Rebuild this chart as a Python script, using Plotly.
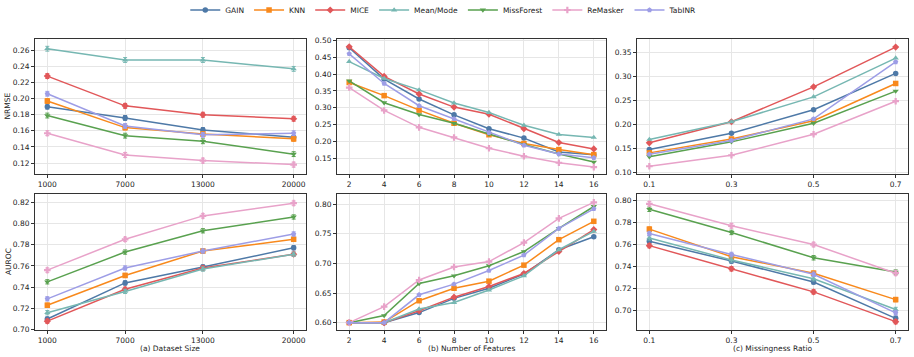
import plotly.graph_objects as go

METHODS = ["GAIN", "KNN", "MICE", "Mean/Mode", "MissForest", "ReMasker", "TabINR"]
COLORS = {"GAIN": "#4e79a7", "KNN": "#f8891c", "MICE": "#e15759", "Mean/Mode": "#76b7b2",
          "MissForest": "#59a14f", "ReMasker": "#e8a2c9", "TabINR": "#9d9de6"}
SYMBOLS = {"GAIN": "circle", "KNN": "square", "MICE": "diamond", "Mean/Mode": "triangle-up",
           "MissForest": "triangle-down", "ReMasker": "cross", "TabINR": "pentagon"}

SIZES = [1000, 7000, 13000, 20000]
FEATURES = [2, 4, 6, 8, 10, 12, 14, 16]
RATIOS = [0.1, 0.3, 0.5, 0.7]

NRMSE_SIZE = {
    "GAIN": [0.190, 0.176, 0.161, 0.152],
    "KNN": [0.197, 0.164, 0.156, 0.150],
    "MICE": [0.228, 0.191, 0.180, 0.175],
    "Mean/Mode": [0.262, 0.248, 0.248, 0.237],
    "MissForest": [0.179, 0.154, 0.147, 0.131],
    "ReMasker": [0.157, 0.130, 0.123, 0.118],
    "TabINR": [0.206, 0.166, 0.155, 0.157],
}
NRMSE_SIZE_ERR = {
    "GAIN": [0.003, 0.003, 0.003, 0.002],
    "KNN": [0.003, 0.003, 0.003, 0.003],
    "MICE": [0.003, 0.003, 0.003, 0.003],
    "Mean/Mode": [0.003, 0.003, 0.003, 0.003],
    "MissForest": [0.003, 0.003, 0.003, 0.003],
    "ReMasker": [0.003, 0.003, 0.003, 0.003],
    "TabINR": [0.003, 0.003, 0.003, 0.003],
}
NRMSE_FEAT = {
    "GAIN": [0.478, 0.385, 0.326, 0.279, 0.238, 0.210, 0.169, 0.161],
    "KNN": [0.375, 0.336, 0.293, 0.254, 0.220, 0.194, 0.176, 0.161],
    "MICE": [0.481, 0.393, 0.341, 0.302, 0.281, 0.238, 0.197, 0.178],
    "Mean/Mode": [0.437, 0.387, 0.353, 0.314, 0.286, 0.248, 0.221, 0.212],
    "MissForest": [0.380, 0.315, 0.280, 0.254, 0.222, 0.191, 0.163, 0.139],
    "ReMasker": [0.360, 0.292, 0.242, 0.212, 0.180, 0.156, 0.137, 0.124],
    "TabINR": [0.460, 0.372, 0.306, 0.267, 0.226, 0.189, 0.163, 0.152],
}
NRMSE_RATIO = {
    "GAIN": [0.147, 0.181, 0.230, 0.306],
    "KNN": [0.140, 0.169, 0.207, 0.285],
    "MICE": [0.161, 0.205, 0.278, 0.361],
    "Mean/Mode": [0.168, 0.205, 0.257, 0.338],
    "MissForest": [0.132, 0.163, 0.202, 0.269],
    "ReMasker": [0.112, 0.135, 0.179, 0.248],
    "TabINR": [0.137, 0.166, 0.211, 0.330],
}
AUROC_SIZE = {
    "GAIN": [0.710, 0.744, 0.759, 0.777],
    "KNN": [0.723, 0.751, 0.774, 0.785],
    "MICE": [0.708, 0.738, 0.758, 0.771],
    "Mean/Mode": [0.716, 0.736, 0.757, 0.771],
    "MissForest": [0.745, 0.773, 0.793, 0.806],
    "ReMasker": [0.756, 0.785, 0.807, 0.819],
    "TabINR": [0.729, 0.758, 0.774, 0.790],
}
AUROC_SIZE_ERR = {
    "GAIN": [0.002, 0.002, 0.002, 0.002],
    "KNN": [0.002, 0.002, 0.002, 0.002],
    "MICE": [0.002, 0.002, 0.002, 0.002],
    "Mean/Mode": [0.002, 0.002, 0.002, 0.002],
    "MissForest": [0.002, 0.002, 0.002, 0.002],
    "ReMasker": [0.002, 0.002, 0.002, 0.002],
    "TabINR": [0.002, 0.002, 0.002, 0.002],
}
AUROC_FEAT = {
    "GAIN": [0.600, 0.600, 0.617, 0.641, 0.658, 0.682, 0.723, 0.745],
    "KNN": [0.600, 0.601, 0.637, 0.658, 0.670, 0.697, 0.740, 0.771],
    "MICE": [0.600, 0.600, 0.620, 0.643, 0.661, 0.683, 0.720, 0.757],
    "Mean/Mode": [0.600, 0.600, 0.623, 0.634, 0.655, 0.679, 0.723, 0.754],
    "MissForest": [0.600, 0.612, 0.666, 0.679, 0.696, 0.720, 0.759, 0.796],
    "ReMasker": [0.600, 0.627, 0.672, 0.694, 0.703, 0.735, 0.776, 0.803],
    "TabINR": [0.600, 0.600, 0.647, 0.665, 0.688, 0.714, 0.759, 0.792],
}
AUROC_RATIO = {
    "GAIN": [0.763, 0.745, 0.726, 0.693],
    "KNN": [0.774, 0.749, 0.734, 0.710],
    "MICE": [0.759, 0.738, 0.717, 0.690],
    "Mean/Mode": [0.766, 0.746, 0.729, 0.701],
    "MissForest": [0.792, 0.771, 0.748, 0.735],
    "ReMasker": [0.797, 0.777, 0.760, 0.734],
    "TabINR": [0.770, 0.751, 0.733, 0.698],
}
AUROC_RATIO_ERR = {
    "GAIN": [0.002, 0.002, 0.002, 0.002],
    "KNN": [0.002, 0.002, 0.002, 0.002],
    "MICE": [0.002, 0.002, 0.002, 0.002],
    "Mean/Mode": [0.002, 0.002, 0.002, 0.002],
    "MissForest": [0.002, 0.002, 0.002, 0.002],
    "ReMasker": [0.002, 0.002, 0.002, 0.002],
    "TabINR": [0.002, 0.002, 0.002, 0.002],
}

X_TITLES = ["(a) Dataset Size", "(b) Number of Features", "(c) Missingness Ratio"]
Y_TITLES = ["NRMSE", "AUROC"]

FONT = "DejaVu Sans"
FS = 7.5
AXCOL = "#333333"
GRID = "#e6e6e6"

W, H = 914, 357
ML, MR, MT, MB = 35, 6, 39, 27
PW, PH = W - ML - MR, H - MT - MB

panels = [
    (1, 1, SIZES, NRMSE_SIZE, NRMSE_SIZE_ERR),
    (1, 2, FEATURES, NRMSE_FEAT, None),
    (1, 3, RATIOS, NRMSE_RATIO, None),
    (2, 1, SIZES, AUROC_SIZE, AUROC_SIZE_ERR),
    (2, 2, FEATURES, AUROC_FEAT, None),
    (2, 3, RATIOS, AUROC_RATIO, AUROC_RATIO_ERR),
]

xdomains = [[0.0, 0.3104], [0.3459, 0.6541], [0.6896, 1.0]]
ydomains = {1: [0.536, 1.0], 2: [0.0, 0.467]}

xranges = [[50, 20950], [1.3, 16.7], [0.07, 0.73]]
xticks = [SIZES, FEATURES, RATIOS]
xtext = [[str(v) for v in SIZES], [str(v) for v in FEATURES], [str(v) for v in RATIOS]]
yranges = {(1, 1): [0.1063, 0.2741], (1, 2): [0.1035, 0.504], (1, 3): [0.0958, 0.3779],
           (2, 1): [0.6997, 0.8275], (2, 2): [0.5876, 0.8169], (2, 3): [0.6824, 0.8058]}
ydtick = {(1, 1): 0.02, (1, 2): 0.05, (1, 3): 0.05, (2, 1): 0.02, (2, 2): 0.05, (2, 3): 0.02}
ytick0 = {(1, 1): 0.12, (1, 2): 0.15, (1, 3): 0.10, (2, 1): 0.70, (2, 2): 0.60, (2, 3): 0.70}

fig = go.Figure()
layout = {}
for idx, (r, c, xs, data, err) in enumerate(panels):
    n = idx + 1
    xa = "x" if n == 1 else f"x{n}"
    ya = "y" if n == 1 else f"y{n}"
    for m in METHODS:
        tr = dict(
            x=xs, y=data[m], name=m, mode="lines+markers",
            line=dict(color=COLORS[m], width=1.5),
            marker=dict(symbol=SYMBOLS[m], size=5.5, color=COLORS[m], line=dict(width=0)),
            xaxis=xa, yaxis=ya, legendgroup=m, showlegend=(n == 1),
        )
        if err is not None:
            tr["error_y"] = dict(type="data", array=err[m], color=COLORS[m], thickness=1, width=2)
        fig.add_trace(go.Scatter(**tr))
    axx = dict(
        domain=xdomains[c - 1], range=xranges[c - 1], anchor=ya, automargin=False,
        tickmode="array", tickvals=xticks[c - 1], ticktext=xtext[c - 1],
        showline=True, mirror=True, linecolor=AXCOL, linewidth=1,
        ticks="outside", ticklen=3, tickcolor=AXCOL, tickwidth=0.8,
        showgrid=True, gridcolor=GRID, gridwidth=0.8, zeroline=False,
        tickfont=dict(family=FONT, size=FS, color="#222"),
    )
    axy = dict(
        domain=ydomains[r], range=yranges[(r, c)], anchor=xa, automargin=False,
        tickmode="linear", tick0=ytick0[(r, c)], dtick=ydtick[(r, c)], tickformat=".2f",
        showline=True, mirror=True, linecolor=AXCOL, linewidth=1,
        ticks="outside", ticklen=3, tickcolor=AXCOL, tickwidth=0.8,
        showgrid=True, gridcolor=GRID, gridwidth=0.8, zeroline=False,
        tickfont=dict(family=FONT, size=FS, color="#222"),
    )
    layout["xaxis" if n == 1 else f"xaxis{n}"] = axx
    layout["yaxis" if n == 1 else f"yaxis{n}"] = axy

annotations = []
for c in range(3):
    d = xdomains[c]
    annotations.append(dict(text=X_TITLES[c], xref="paper", yref="paper",
                            x=(d[0] + d[1]) / 2, y=(-18) / PH, xanchor="center", yanchor="middle",
                            showarrow=False, font=dict(family=FONT, size=FS, color="#222")))
for r in (1, 2):
    d = ydomains[r]
    annotations.append(dict(text=Y_TITLES[r - 1], xref="paper", yref="paper",
                            x=(8 - ML) / PW, y=(d[0] + d[1]) / 2, xanchor="center", yanchor="middle",
                            textangle=-90, showarrow=False,
                            font=dict(family=FONT, size=FS, color="#222")))

fig.update_layout(**layout)
fig.update_layout(
    width=W, height=H,
    margin=dict(l=ML, r=MR, t=MT, b=MB, autoexpand=False),
    paper_bgcolor="white", plot_bgcolor="white",
    font=dict(family=FONT, size=FS, color="#222"),
    annotations=annotations,
    legend=dict(orientation="h", x=0.485, xanchor="center", xref="container",
                y=1 - 10 / H, yanchor="middle", yref="container",
                font=dict(family=FONT, size=FS), itemwidth=30, tracegroupgap=0),
)
fig.write_html("out.html", config={"displayModeBar": False},
               post_script="document.body.style.margin='0';")
